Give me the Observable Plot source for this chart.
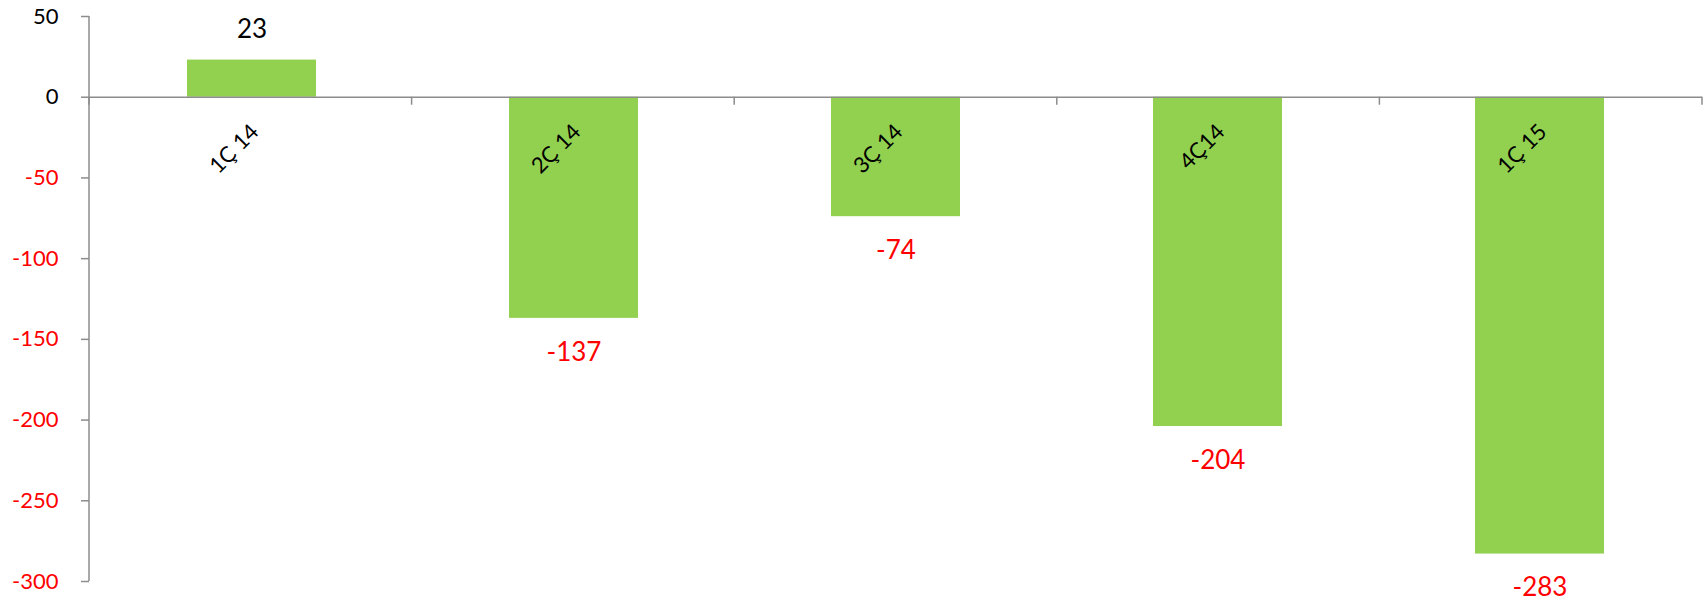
<!DOCTYPE html>
<html>
<head>
<meta charset="utf-8">
<script src="https://cdn.jsdelivr.net/npm/d3@7"></script>
<script src="https://cdn.jsdelivr.net/npm/@observablehq/plot@0.6"></script>
<style>
  html, body { margin: 0; padding: 0; background: #fff; }
</style>
</head>
<body>
<div id="chart"></div>
<script>
const categories = ["1Ç 14", "2Ç 14", "3Ç 14", "4Ç14", "1Ç 15"];
const values = [23, -137, -74, -204, -283];
const yTicks = [50, 0, -50, -100, -150, -200, -250, -300];

const data = categories.map((c, i) => ({cat: c, value: values[i]}));

const W = 1707, H = 601;
const mL = 89, mR = 5, mT = 16, mB = 20;
const axisColor = "#8c8c8c";

// structural lines: y-axis line and category boundary ticks on the zero line
function structure(index, scales, values, dims) {
  const g = d3.create("svg:g");
  const y0 = scales.y(0);
  const left = dims.marginLeft, right = dims.width - dims.marginRight;
  g.append("line")
    .attr("x1", left).attr("x2", left)
    .attr("y1", scales.y(50)).attr("y2", scales.y(-300))
    .attr("stroke", axisColor).attr("stroke-width", 1.5);
  const n = categories.length;
  for (let i = 0; i <= n; i++) {
    const x = left + i * (right - left) / n;
    g.append("line")
      .attr("x1", x).attr("x2", x)
      .attr("y1", y0).attr("y2", y0 + 8)
      .attr("stroke", axisColor).attr("stroke-width", 1.5);
  }
  return g.node();
}

const chart = Plot.plot({
  width: W,
  height: H,
  marginLeft: mL,
  marginRight: mR,
  marginTop: mT,
  marginBottom: mB,
  style: {fontFamily: "Lato, 'Open Sans', sans-serif", background: "#fff"},
  x: {domain: categories, paddingInner: 0.6, paddingOuter: 0.3, axis: null},
  y: {domain: [-300, 50], axis: null},
  marks: [
    Plot.barY(data, {x: "cat", y: "value", fill: "#92D050"}),
    Plot.ruleY([0], {stroke: axisColor, strokeWidth: 1.5}),
    structure,
    Plot.axisY(yTicks, {
      anchor: "left",
      label: null,
      tickSize: 8,
      tickPadding: 23,
      stroke: axisColor,
      strokeWidth: 1.5,
      fill: d => d < 0 ? "#ff0000" : "#000000",
      fontSize: 22,
      tickFormat: d => String(d)
    }),
    Plot.text(data, {
      x: "cat",
      y: () => 0,
      text: "cat",
      rotate: -45,
      textAnchor: "end",
      lineAnchor: "bottom",
      dx: 8,
      dy: 36,
      fontSize: 22,
      fill: "#000"
    }),
    Plot.text(data, {
      x: "cat",
      y: "value",
      text: d => String(d.value),
      fill: "#000000",
      fontSize: 26,
      filter: d => d.value >= 0,
      dy: -30
    }),
    Plot.text(data, {
      x: "cat",
      y: "value",
      text: d => String(d.value),
      fill: "#ff0000",
      fontSize: 26,
      filter: d => d.value < 0,
      dy: 34
    })
  ]
});

document.getElementById("chart").appendChild(chart);
</script>
</body>
</html>
